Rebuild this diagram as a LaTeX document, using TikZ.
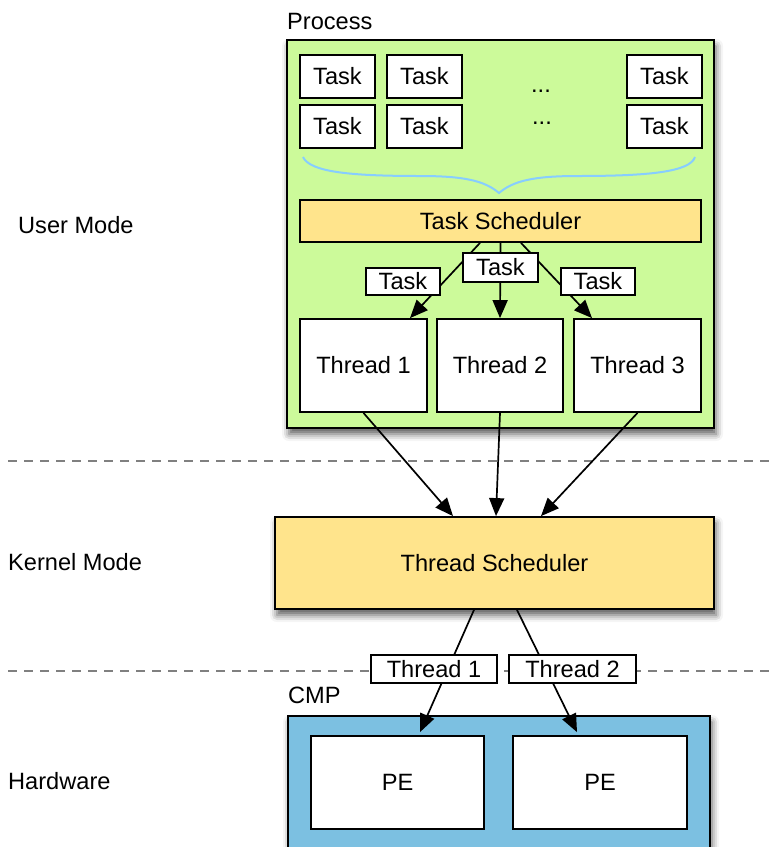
\documentclass[tikz,border=0pt]{standalone}
\usepackage{fontspec}
\setmainfont{Liberation Sans}
\usetikzlibrary{arrows.meta,shadows.blur}
\definecolor{procgreen}{RGB}{204,250,154}
\definecolor{schedyellow}{RGB}{255,228,140}
\definecolor{cmpblue}{RGB}{124,192,225}
\definecolor{bracecol}{RGB}{135,205,255}
\def\diafont{\fontsize{23.6}{28}\selectfont}
\tikzset{
  box/.style={draw, line width=1.8pt, fill=white, inner sep=0pt, font=\diafont},
  tag/.style={box, line width=1.4pt},
  shade box/.style={box, blur shadow={shadow xshift=2pt, shadow yshift=-6pt, shadow blur radius=7pt, shadow opacity=65}},
  flow/.style={line width=1.7pt, -{Triangle[length=18pt,width=15pt]}},
  modeline/.style={line width=1.6pt, gray, dash pattern=on 9pt off 7pt},
  txt/.style={inner sep=0pt, font=\diafont},
}

\begin{document}
\begin{tikzpicture}[x=1pt,y=-1pt]
			%%%%% START %%%%%
			\clip (0,0) rectangle (776,847);
			
			\draw[modeline] (8,461) -- (770,461);
			\draw[modeline] (8,671) -- (770,671);
			
			\node[txt, anchor=base west] (user) at (18,233) {User Mode};
			\node[txt, anchor=base west] (kernel) at (8,570) {Kernel Mode};
			\node[txt, anchor=base west] (hw) at (8,789) {Hardware};
			
			%%%%% PROCESS %%%%%
			\node[txt, anchor=base west] (proclbl) at (287,29) {Process};
			\node[shade box, fill=procgreen, minimum width=427pt, minimum height=388pt] (proc) at (500.5,234) {};
			
			\node[box, minimum width=75pt, minimum height=43pt] (task11) at (337.5,76.5) {Task};
			\node[box, minimum width=75pt, minimum height=43pt] (task12) at (424.5,76.5) {Task};
			\node[box, minimum width=75pt, minimum height=43pt] (task13) at (664.5,76.5) {Task};
			\node[box, minimum width=75pt, minimum height=43pt] (task21) at (337.5,126.5) {Task};
			\node[box, minimum width=75pt, minimum height=43pt] (task22) at (424.5,126.5) {Task};
			\node[box, minimum width=75pt, minimum height=43pt] (task23) at (664.5,126.5) {Task};
			\node[txt] (dots1) at (541,91) {...};
			\node[txt] (dots2) at (542,123) {...};
			
			\draw[line width=2pt, color=bracecol] (303,157) .. controls (310,172) and (350,176) .. (420,176)
				.. controls (465,176) and (485,181) .. (499,193)
				.. controls (513,181) and (533,176) .. (578,176)
				.. controls (648,176) and (690,172) .. (695,157);
			
			\node[box, fill=schedyellow, minimum width=401pt, minimum height=42pt] (tasksched) at (500.5,221) {Task Scheduler};
			
			\node[box, minimum width=127pt, minimum height=93pt] (thr1) at (363.5,365.5) {Thread 1};
			\node[box, minimum width=126pt, minimum height=93pt] (thr2) at (500,365.5) {Thread 2};
			\node[box, minimum width=127pt, minimum height=93pt] (thr3) at (637.5,365.5) {Thread 3};
			
			\draw[flow] ([xshift=-20.5pt]tasksched.south) -- ([xshift=46.5pt]thr1.north);
			\draw[flow] (tasksched.south) -- (thr2.north);
			\draw[flow] ([xshift=20.5pt]tasksched.south) -- ([xshift=-45.5pt]thr3.north);
			
			\node[tag, minimum width=74pt, minimum height=27pt] (tag1) at (403,281.5) {Task};
			\node[tag, minimum width=75pt, minimum height=29pt] (tag2) at (500.5,267.5) {Task};
			\node[tag, minimum width=74pt, minimum height=27pt] (tag3) at (598,281.5) {Task};
			
			%%%%% KERNEL %%%%%
			\node[shade box, fill=schedyellow, minimum width=439pt, minimum height=92pt] (thrsched) at (494.5,563) {Thread Scheduler};
			
			\draw[flow] (thr1.south) -- ([xshift=-41.5pt]thrsched.north);
			\draw[flow] (thr2.south) -- ([xshift=1.5pt]thrsched.north);
			\draw[flow] (thr3.south) -- ([xshift=46.5pt]thrsched.north);
			
			%%%%% HARDWARE %%%%%
			\node[txt, anchor=base west] (cmplbl) at (288,703) {CMP};
			\node[shade box, fill=cmpblue, minimum width=422pt, minimum height=150pt] (cmp) at (499,791) {};
			
			\node[box, minimum width=173pt, minimum height=93pt] (pe1) at (397.5,782.5) {PE};
			\node[box, minimum width=174pt, minimum height=93pt] (pe2) at (600,782.5) {PE};
			
			\draw[flow] ([xshift=-20.5pt]thrsched.south) -- ([xshift=22.5pt,yshift=3pt]pe1.north);
			\draw[flow] ([xshift=22.5pt]thrsched.south) -- ([xshift=-23pt,yshift=3pt]pe2.north);
			
			\node[tag, minimum width=126pt, minimum height=28pt] (thrtag1) at (434,669) {Thread 1};
			\node[tag, minimum width=127pt, minimum height=28pt] (thrtag2) at (572.5,669) {Thread 2};
			
			%%%%% END %%%%%
\end{tikzpicture}
\end{document}
